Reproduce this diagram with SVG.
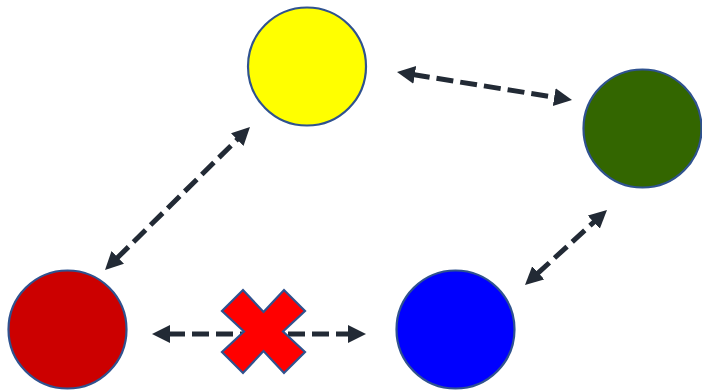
<svg xmlns="http://www.w3.org/2000/svg" width="702" height="390" viewBox="0 0 702 390">
  <style>
    .node { stroke: #2f528f; stroke-width: 2.2; }
    .conn { stroke: #222a35; stroke-width: 5; stroke-dasharray: 17 7; fill: none; marker-start: url(#head); marker-end: url(#head); }
  </style>
  <defs>
    <marker id="head" markerUnits="userSpaceOnUse" markerWidth="22" markerHeight="22" refX="2" refY="9" orient="auto-start-reverse">
      <path d="M0,0 L18,9 L0,18 z" fill="#222a35"/>
    </marker>
  </defs>
  <rect width="702" height="390" fill="#ffffff"/>
  <g id="yellow"><circle class="node" cx="307" cy="66.5" r="59" fill="#ffff00"/></g>
  <g id="green"><circle class="node" cx="642.5" cy="128.5" r="59" fill="#336600"/></g>
  <g id="red"><circle class="node" cx="67.5" cy="329.5" r="59" fill="#cc0000"/></g>
  <g id="blue"><circle class="node" cx="455.5" cy="329.5" r="59" fill="#0000ff"/></g>
  <g id="connectors">
    <line class="conn" x1="412.8" y1="74.5" x2="556.2" y2="97.5"/>
    <line class="conn" x1="168" y1="334" x2="350" y2="334"/>
    <line class="conn" x1="116.4" y1="258.8" x2="238.6" y2="138.2"/>
    <line class="conn" x1="536.8" y1="274.2" x2="595.2" y2="220.8"/>
  </g>
  <g id="cross">
    <polygon class="node" fill="#ff0000" points="263.5,312 284,290 305,311 283,331.5 305,352 284,373 263.5,351 243,373 222,352 244,331.5 222,311 243,290"/>
  </g>
</svg>
